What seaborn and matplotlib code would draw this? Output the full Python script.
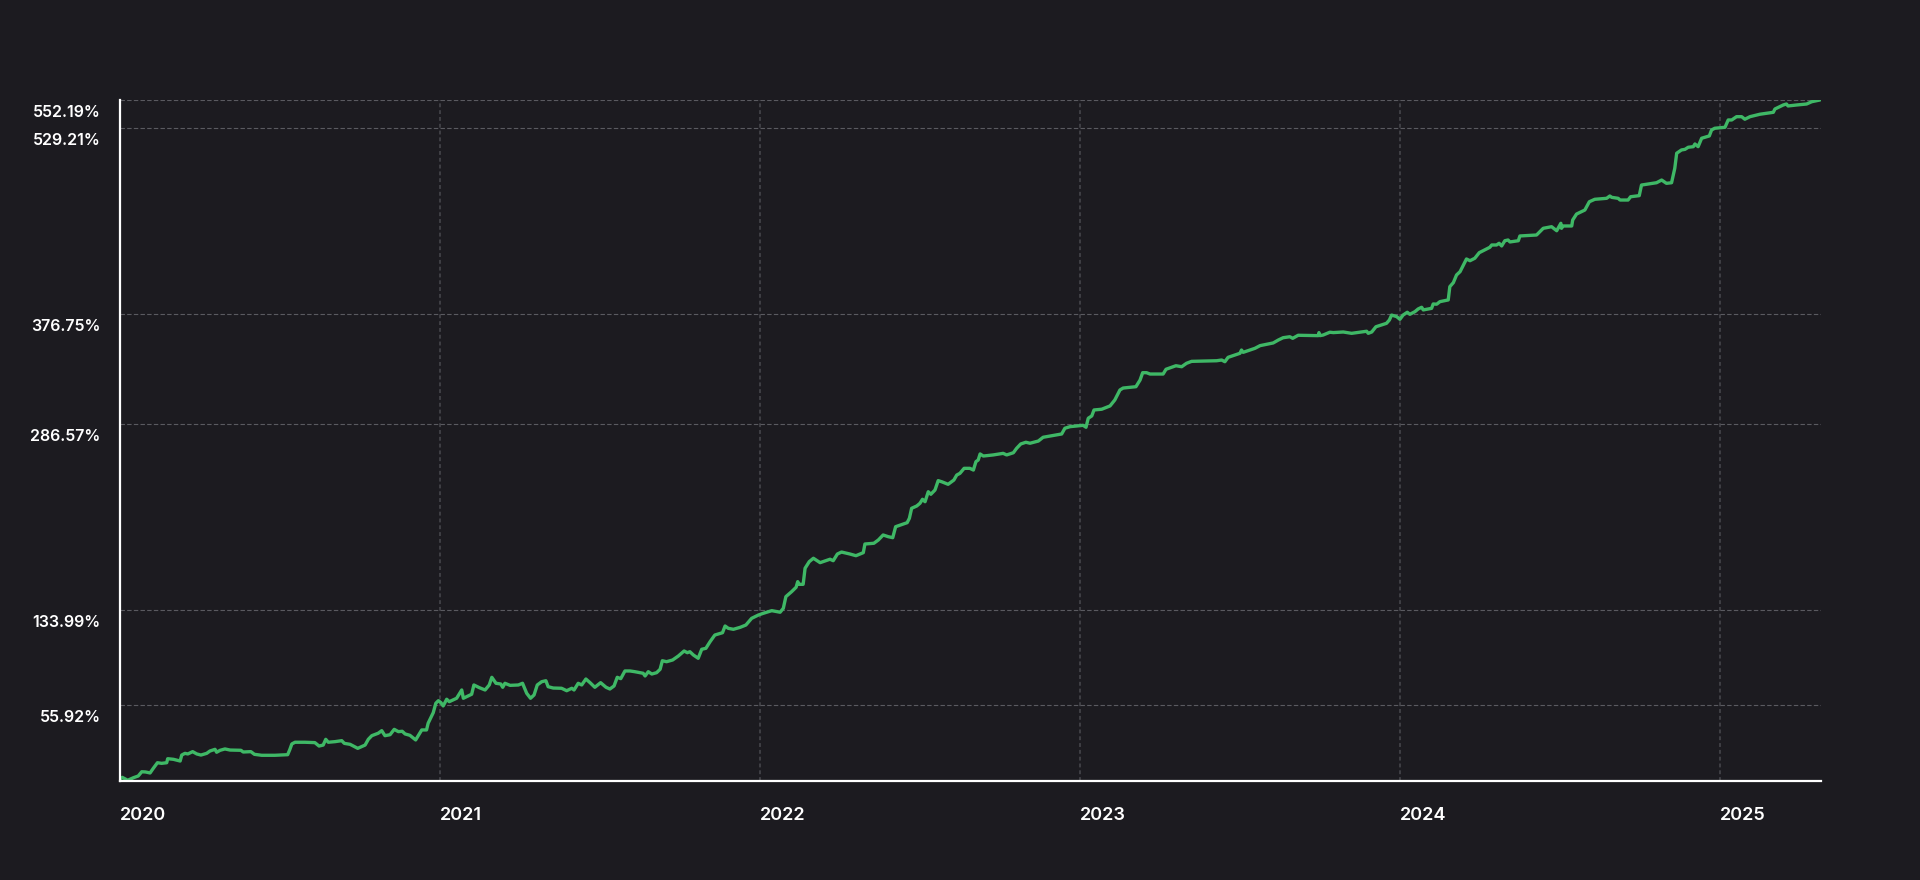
import matplotlib
matplotlib.use("Agg")
import matplotlib.pyplot as plt
import matplotlib.transforms as mtransforms
import numpy as np
import pandas as pd
import seaborn as sns

# ---------------- data ----------------
# time as decimal year, cumulative return in %
year_frac = [
    2020.000, 2020.007, 2020.024, 2020.042, 2020.057, 2020.068, 2020.080, 2020.094, 2020.104, 2020.117,
    2020.130, 2020.146, 2020.149, 2020.167, 2020.188, 2020.193, 2020.203, 2020.212, 2020.227, 2020.240,
    2020.253, 2020.271, 2020.281, 2020.297, 2020.302, 2020.313, 2020.328, 2020.344, 2020.378, 2020.385,
    2020.409, 2020.420, 2020.443, 2020.484, 2020.524, 2020.531, 2020.537, 2020.547, 2020.578, 2020.609,
    2020.622, 2020.635, 2020.643, 2020.651, 2020.672, 2020.693, 2020.701, 2020.719, 2020.743, 2020.766,
    2020.776, 2020.787, 2020.807, 2020.818, 2020.823, 2020.828, 2020.844, 2020.857, 2020.870, 2020.882,
    2020.891, 2020.906, 2020.924, 2020.943, 2020.958, 2020.963, 2020.972, 2020.979, 2020.987, 2020.995,
    2021.003, 2021.010, 2021.021, 2021.029, 2021.052, 2021.068, 2021.073, 2021.099, 2021.106, 2021.123,
    2021.141, 2021.154, 2021.162, 2021.175, 2021.190, 2021.196, 2021.203, 2021.219, 2021.245, 2021.258,
    2021.271, 2021.283, 2021.294, 2021.304, 2021.318, 2021.331, 2021.338, 2021.354, 2021.380, 2021.396,
    2021.412, 2021.419, 2021.432, 2021.443, 2021.456, 2021.469, 2021.484, 2021.502, 2021.519, 2021.531,
    2021.544, 2021.554, 2021.565, 2021.578, 2021.594, 2021.609, 2021.635, 2021.641, 2021.651, 2021.662,
    2021.677, 2021.688, 2021.695, 2021.708, 2021.727, 2021.745, 2021.763, 2021.773, 2021.781, 2021.792,
    2021.807, 2021.818, 2021.831, 2021.844, 2021.859, 2021.883, 2021.891, 2021.901, 2021.917, 2021.938,
    2021.956, 2021.974, 2021.995, 2022.010, 2022.026, 2022.037, 2022.063, 2022.073, 2022.081, 2022.099,
    2022.113, 2022.118, 2022.123, 2022.135, 2022.141, 2022.154, 2022.167, 2022.188, 2022.219, 2022.229,
    2022.242, 2022.255, 2022.281, 2022.300, 2022.323, 2022.328, 2022.356, 2022.370, 2022.385, 2022.401,
    2022.415, 2022.424, 2022.448, 2022.460, 2022.467, 2022.474, 2022.490, 2022.500, 2022.508, 2022.516,
    2022.526, 2022.534, 2022.547, 2022.557, 2022.568, 2022.588, 2022.606, 2022.615, 2022.625, 2022.638,
    2022.656, 2022.667, 2022.675, 2022.682, 2022.688, 2022.698, 2022.729, 2022.760, 2022.771, 2022.792,
    2022.802, 2022.815, 2022.831, 2022.844, 2022.870, 2022.885, 2022.906, 2022.943, 2022.953, 2022.969,
    2023.010, 2023.019, 2023.026, 2023.037, 2023.044, 2023.068, 2023.094, 2023.109, 2023.125, 2023.135,
    2023.175, 2023.188, 2023.196, 2023.208, 2023.219, 2023.260, 2023.269, 2023.281, 2023.300, 2023.318,
    2023.333, 2023.349, 2023.427, 2023.443, 2023.453, 2023.463, 2023.484, 2023.500, 2023.505, 2023.510,
    2023.547, 2023.563, 2023.604, 2023.620, 2023.635, 2023.656, 2023.665, 2023.682, 2023.745, 2023.747,
    2023.750, 2023.760, 2023.781, 2023.792, 2023.823, 2023.849, 2023.896, 2023.901, 2023.912, 2023.925,
    2023.958, 2023.967, 2023.974, 2023.990, 2024.000, 2024.010, 2024.023, 2024.031, 2024.047, 2024.057,
    2024.068, 2024.073, 2024.099, 2024.104, 2024.115, 2024.125, 2024.151, 2024.156, 2024.167, 2024.177,
    2024.188, 2024.208, 2024.219, 2024.234, 2024.248, 2024.281, 2024.287, 2024.302, 2024.310, 2024.318,
    2024.328, 2024.338, 2024.344, 2024.370, 2024.375, 2024.427, 2024.448, 2024.474, 2024.490, 2024.503,
    2024.505, 2024.510, 2024.537, 2024.540, 2024.552, 2024.578, 2024.592, 2024.609, 2024.646, 2024.656,
    2024.662, 2024.682, 2024.688, 2024.713, 2024.721, 2024.748, 2024.755, 2024.802, 2024.818, 2024.833,
    2024.849, 2024.859, 2024.865, 2024.880, 2024.891, 2024.901, 2024.917, 2024.922, 2024.932, 2024.943,
    2024.967, 2024.974, 2024.984, 2025.016, 2025.026, 2025.037, 2025.052, 2025.068, 2025.078, 2025.094,
    2025.125, 2025.167, 2025.172, 2025.198, 2025.208, 2025.213, 2025.240, 2025.271, 2025.287, 2025.3125,
]

return_pct = [
    -5.3, -3.7, -6.1, -4.0, -2.6, 0.9, 0.7, -0.1, 3.7, 8.3,
    7.8, 8.3, 11.6, 11.1, 9.7, 14.6, 16.0, 15.5, 17.4, 15.5,
    14.6, 16.0, 17.9, 19.3, 16.9, 18.5, 19.6, 18.7, 18.5, 17.1,
    17.4, 15.2, 14.4, 14.4, 14.9, 19.3, 23.7, 25.1, 25.1, 24.8,
    22.0, 22.8, 27.5, 25.1, 25.6, 26.4, 24.2, 23.4, 20.1, 22.8,
    27.5, 30.5, 32.5, 34.6, 32.5, 30.5, 31.3, 35.7, 33.8, 34.1,
    31.9, 30.8, 27.0, 35.2, 35.2, 40.7, 45.6, 49.4, 57.1, 59.2,
    57.6, 54.9, 60.4, 58.4, 61.2, 68.0, 61.2, 64.5, 72.1, 69.9,
    68.0, 72.1, 78.4, 73.5, 72.9, 70.2, 73.5, 71.8, 72.1, 73.5,
    65.3, 61.2, 63.9, 72.1, 74.8, 75.6, 70.7, 69.6, 69.4, 67.4,
    69.4, 68.0, 73.5, 72.1, 77.0, 74.0, 70.2, 74.0, 70.2, 68.8,
    71.3, 78.4, 77.3, 83.6, 83.6, 83.0, 81.7, 79.5, 83.0, 81.1,
    82.2, 85.0, 92.0, 91.2, 92.6, 95.9, 100.0, 98.6, 99.4, 96.7,
    94.0, 101.4, 102.2, 107.6, 113.1, 115.0, 120.5, 118.6, 117.8, 119.4,
    121.3, 126.8, 129.5, 130.9, 132.2, 133.1, 131.8, 135.0, 144.6, 148.7,
    152.3, 156.9, 154.7, 154.7, 167.9, 173.3, 176.1, 172.5, 175.3, 174.1,
    179.6, 181.2, 179.6, 178.2, 180.7, 187.8, 188.4, 191.1, 195.2, 193.8,
    193.0, 202.0, 204.2, 205.3, 208.9, 217.1, 219.0, 221.2, 224.5, 222.5,
    230.7, 228.6, 232.1, 239.8, 238.9, 236.8, 240.3, 244.4, 245.8, 249.9,
    249.9, 248.5, 255.4, 256.7, 261.7, 260.0, 260.9, 262.2, 260.9, 262.7,
    266.3, 269.9, 271.3, 270.5, 272.3, 275.4, 276.4, 278.1, 282.8, 284.1,
    285.2, 283.6, 291.0, 292.9, 297.8, 298.4, 301.1, 306.0, 314.2, 315.8,
    316.9, 322.4, 328.4, 328.4, 327.3, 327.3, 331.2, 332.3, 334.1, 333.3,
    336.1, 337.7, 338.2, 338.8, 337.4, 341.0, 342.9, 344.3, 347.0, 345.1,
    348.4, 350.6, 352.8, 355.2, 357.1, 357.9, 356.6, 359.1, 358.8, 361.3,
    358.8, 359.3, 361.6, 361.3, 361.8, 360.7, 362.4, 360.7, 361.8, 366.1,
    368.9, 371.6, 375.7, 374.4, 372.2, 375.7, 378.0, 376.3, 378.5, 380.7,
    382.1, 379.9, 381.2, 384.8, 384.6, 386.7, 388.1, 399.0, 402.3, 408.6,
    411.3, 421.7, 420.3, 422.3, 426.9, 431.3, 433.2, 433.2, 434.6, 432.4,
    436.7, 437.3, 435.7, 436.7, 440.6, 441.4, 446.9, 448.2, 444.9, 451.0,
    446.9, 448.8, 448.8, 453.7, 458.6, 461.9, 468.7, 470.7, 471.5, 473.4,
    472.3, 471.5, 470.1, 470.1, 472.8, 473.7, 482.4, 484.3, 486.5, 483.8,
    484.3, 496.1, 508.5, 511.2, 511.7, 513.4, 513.9, 516.1, 513.9, 520.8,
    522.7, 527.6, 529.0, 529.8, 535.8, 535.8, 538.5, 538.5, 536.4, 538.5,
    540.5, 542.1, 544.8, 548.1, 548.9, 547.3, 548.1, 548.9, 550.8, 552.19,
]

ytick_values = [55.92, 133.99, 286.57, 376.75, 529.21, 552.19]
ytick_labels = ["55.92%", "133.99%", "286.57%", "376.75%", "529.21%", "552.19%"]
xtick_years = [2020, 2021, 2022, 2023, 2024, 2025]
xtick_labels = ["2020", "2021", "2022", "2023", "2024", "2025"]

df = pd.DataFrame({"year": year_frac, "ret": return_pct})

# ---------------- style ----------------
BG = "#1c1b20"
LINE = "#3fb866"
TXT = "#ffffff"

sns.set_style("dark", {"axes.facecolor": BG, "figure.facecolor": BG})
plt.rcParams["font.family"] = ["Inter", "DejaVu Sans"]

fig = plt.figure(figsize=(19.2, 8.8), dpi=100, facecolor=BG)
ax = fig.add_axes([120 / 1920, 1 - 781 / 880, (1821 - 120) / 1920, (781 - 100) / 880])
ax.set_facecolor(BG)

sns.lineplot(data=df, x="year", y="ret", ax=ax, color=LINE, linewidth=2.4,
             sort=False, estimator=None, zorder=3)

ax.set_xlim(2020.0, 2025.316)
ax.set_ylim(-6.7, 552.19)

ax.set_xticks(xtick_years)
ax.set_xticklabels(xtick_labels)
ax.set_yticks(ytick_values)
ax.set_yticklabels(ytick_labels)
ax.set_xlabel("")
ax.set_ylabel("")

ax.xaxis.grid(True, color="#3f3f45", linewidth=1.4, linestyle=(0, (2, 1.5)))
ax.yaxis.grid(True, color="#5a5a60", linewidth=0.8, linestyle=(0, (4, 2)))
ax.set_axisbelow(True)

for side in ["top", "right"]:
    ax.spines[side].set_visible(False)
for side in ["left", "bottom"]:
    ax.spines[side].set_visible(True)
    ax.spines[side].set_color("#ffffff")
    ax.spines[side].set_linewidth(1.6)
    ax.spines[side].set_zorder(4)

ax.tick_params(axis="y", length=0, pad=14, labelsize=11.5, labelcolor=TXT)
ax.tick_params(axis="x", length=0, pad=19, labelsize=13, labelcolor=TXT)

for lbl in ax.get_xticklabels():
    lbl.set_horizontalalignment("left")
    lbl.set_fontweight("semibold")

offset = mtransforms.ScaledTranslation(0, -0.11, fig.dpi_scale_trans)
for lbl in ax.get_yticklabels():
    lbl.set_fontweight("semibold")
    lbl.set_transform(lbl.get_transform() + offset)

fig.savefig("out.png", dpi=100, facecolor=BG)
